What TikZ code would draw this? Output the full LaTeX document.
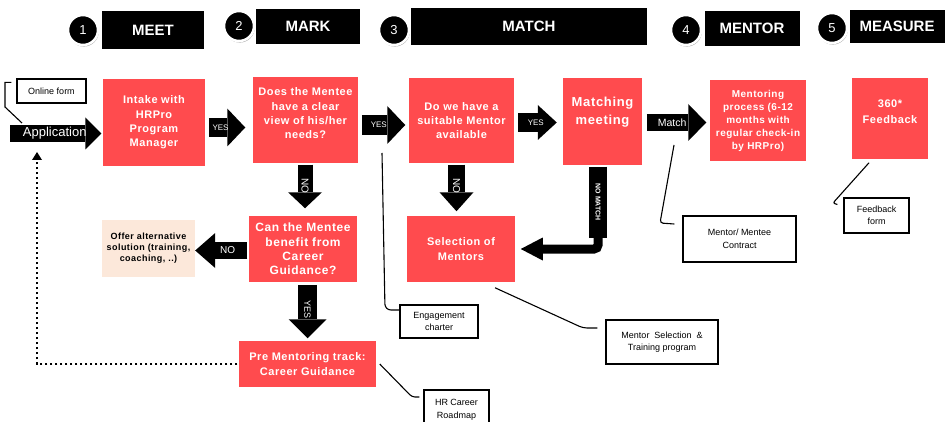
\documentclass[tikz,border=0pt]{standalone}
\usepackage{fontspec}
\setmainfont{Liberation Sans}
\newfontfamily\lsfont[LetterSpace=5]{Liberation Sans}
\usetikzlibrary{arrows.meta,shadows,calc}
\definecolor{boxred}{HTML}{FF4B4E}
\definecolor{peach}{HTML}{FCE8DA}
\begin{document}
\begin{tikzpicture}[x=1pt,y=-1pt,
  redbox/.style={fill=boxred, draw=white, line width=1.5pt,
    drop shadow={shadow xshift=1.2pt, shadow yshift=-1.4pt, fill=black, opacity=0.22},
    text=white, align=center, inner sep=0pt,
    font=\lsfont\bfseries\fontsize{11}{14.3}\selectfont},
  boxtxt/.style={text=white, align=center, inner sep=0pt,
    font=\lsfont\bfseries\fontsize{11}{14.3}\selectfont},
  hdrbox/.style={fill=black, text=white, inner sep=0pt,
    font=\bfseries\fontsize{15}{17}\selectfont},
  numcirc/.style={circle, fill=black, draw=white, line width=2.5pt, minimum size=30pt,
    inner sep=0pt, text=white, font=\fontsize{13}{15}\selectfont,
    drop shadow={shadow xshift=0.8pt, shadow yshift=-1.6pt, fill=black, opacity=0.3}},
  callout/.style={draw=black, line width=1.3pt, fill=white, align=center, inner sep=0pt,
    font=\fontsize{9}{12.5}\selectfont},
  clline/.style={draw=black, line width=1.1pt},
  lbl/.style={text=white, inner sep=0pt, font=\fontsize{8}{9}\selectfont},
  barrow/.style n args={3}{draw=black, line width=#1,
    -{Triangle[length=#3, width=#2, line width=0pt]}},
  dotarrow/.style={draw=black, line width=2.6pt, dash pattern=on 2.6pt off 2.4pt,
    -{Triangle[length=8pt, width=10pt, line width=0pt]}}
]
\useasboundingbox (0,0) rectangle (949,422);

% header
\node[hdrbox, minimum width=102pt, minimum height=38pt] (meet) at (153,30) {MEET};
\node[hdrbox, minimum width=104pt, minimum height=35pt] (mark) at (308,26.5) {MARK};
\node[hdrbox, minimum width=236pt, minimum height=37pt] (match) at (529,26.5) {MATCH};
\node[hdrbox, minimum width=95pt, minimum height=35pt] (mentor) at (752,28.5) {MENTOR};
\node[hdrbox, minimum width=95pt, minimum height=33pt] (measure) at (897,26.5) {MEASURE};
\node[numcirc] (c1) at (83,30) {1};
\node[numcirc] (c2) at (239,26) {2};
\node[numcirc] (c3) at (394,30) {3};
\node[numcirc] (c4) at (686,30) {4};
\node[numcirc] (c5) at (832,28) {5};

% red boxes
\node[redbox, minimum width=104pt, minimum height=89pt] (intake) at (154,122.5)
  {Intake with\\HRPro\\Program\\Manager};
\node[redbox, minimum width=107pt, minimum height=88pt,
  label={[boxtxt, yshift=6.5pt]center:{Does the Mentee\\have a clear\\view of his/her\\needs?}}]
  (mentee) at (305.5,120) {};
\node[redbox, minimum width=107pt, minimum height=87pt] (suitable) at (461.5,120.5)
  {Do we have a\\suitable Mentor\\available};
\node[redbox, minimum width=81pt, minimum height=89pt,
  label={[boxtxt, yshift=9.5pt, font=\lsfont\bfseries\fontsize{13}{18}\selectfont]center:{Matching\\meeting}}]
  (matching) at (602.5,121.5) {};
\node[redbox, minimum width=98pt, minimum height=83pt,
  font=\lsfont\bfseries\fontsize{10}{13}\selectfont] (process) at (758,120.5)
  {Mentoring\\process (6-12\\months with\\regular check-in\\by HRPro)};
\node[redbox, minimum width=78pt, minimum height=83pt,
  label={[boxtxt, yshift=6.5pt, font=\lsfont\bfseries\fontsize{11}{16}\selectfont]center:{360*\\Feedback}}]
  (feedback) at (890,118.5) {};
\node[redbox, minimum width=110pt, minimum height=68pt,
  font=\lsfont\bfseries\fontsize{12}{14.3}\selectfont] (benefit) at (303,249)
  {Can the Mentee\\benefit from\\Career\\Guidance?};
\node[redbox, minimum width=110pt, minimum height=68pt] (selection) at (461,249)
  {Selection of\\Mentors};
\node[redbox, minimum width=139pt, minimum height=48pt] (pretrack) at (307.5,364)
  {Pre Mentoring track:\\Career Guidance};
\node[fill=peach, minimum width=93pt, minimum height=57pt, align=center, inner sep=0pt,
  font=\lsfont\bfseries\fontsize{9}{11}\selectfont] (offer) at (148.5,248.5)
  {Offer alternative\\solution (training,\\coaching, ..)};

% callout boxes
\node[callout, minimum width=69pt, minimum height=24pt] (online) at (51.5,91) {Online form};
\node[callout, minimum width=113pt, minimum height=46pt] (contract) at (739.5,239) {Mentor/ Mentee\\Contract};
\node[callout, minimum width=65pt, minimum height=35pt] (fbform) at (876.5,215.5) {Feedback\\form};
\node[callout, minimum width=78pt, minimum height=33pt] (engage) at (439,321.5) {Engagement\\charter};
\node[callout, minimum width=112pt, minimum height=44pt] (msel) at (662,342) {Mentor~~Selection~~\&\\Training program};
\node[callout, minimum width=65pt, minimum height=40pt] (roadmap) at (456.5,410) {HR Career\\Roadmap};

% block arrows
\coordinate (appstart) at (10,133.5);
\draw[barrow={17pt}{32pt}{16pt}] (appstart) -- (appstart -| intake.west)
  node[pos=0.49, lbl, font=\fontsize{13}{15}\selectfont] {Application};
\draw[barrow={19pt}{38pt}{18pt}, shorten <=2pt, shorten >=6pt]
  ([yshift=-5pt]intake.east) -- ([yshift=-5pt]intake.east -| mentee.west)
  node[pos=0.31, lbl] {YES};
\draw[barrow={20pt}{38pt}{18pt}, shorten <=2pt, shorten >=2pt]
  ([yshift=-5pt]mentee.east) -- ([yshift=-5pt]mentee.east -| suitable.west)
  node[pos=0.4, lbl] {YES};
\draw[barrow={19pt}{35pt}{19pt}, shorten <=2.5pt, shorten >=4.5pt]
  ([yshift=-2pt]suitable.east) -- ([yshift=-2pt]suitable.east -| matching.west)
  node[pos=0.44, lbl] {YES};
\draw[barrow={17pt}{37pt}{18pt}, shorten <=3pt, shorten >=2pt]
  ([yshift=-1pt]matching.east) -- ([yshift=-1pt]matching.east -| process.west)
  node[pos=0.44, lbl, font=\fontsize{10.5}{12}\selectfont] {Match};
\draw[barrow={15pt}{34pt}{16pt}, shorten >=6pt]
  ([xshift=-0.5pt]mentee.south) -- ([xshift=-0.5pt]mentee.south |- benefit.north)
  node[pos=0.42, lbl, rotate=-90, font=\fontsize{10}{12}\selectfont] {NO};
\draw[barrow={17pt}{35pt}{20pt}]
  ([yshift=-1.5pt]benefit.west) -- ([yshift=-1.5pt]benefit.west -| offer.east)
  node[pos=0.375, lbl, font=\fontsize{10}{12}\selectfont] {NO};
\draw[barrow={19pt}{38pt}{19pt}, shorten <=1pt, shorten >=1pt]
  ([xshift=4.5pt]benefit.south) -- ([xshift=4.5pt]benefit.south |- pretrack.north)
  node[pos=0.47, lbl, rotate=-90, font=\fontsize{9}{11}\selectfont] {YES};
\draw[barrow={17pt}{34pt}{19pt}, shorten >=3pt]
  ([xshift=-5pt]suitable.south) -- ([xshift=-5pt]suitable.south |- selection.north)
  node[pos=0.42, lbl, rotate=-90, font=\fontsize{10}{12}\selectfont] {NO};
\draw[line width=18pt] ([xshift=-4.5pt]matching.south) -- ++(0,71)
  node[midway, lbl, rotate=-90, font=\bfseries\fontsize{7}{8}\selectfont] {NO MATCH};
\draw[barrow={9pt}{23pt}{22pt}, rounded corners=4pt, shorten >=4pt]
  ([xshift=-4.5pt,yshift=-66pt]matching.south) |- (selection.east);

% dotted return arrow
\coordinate (dotend) at (37,152);
\draw[dotarrow] (pretrack.west) -| (dotend);

% callout lines
\coordinate (onlinept) at (22,123);
\draw[clline] (onlinept) -- ++(-17,-16) |- ([xshift=-5pt,yshift=-4pt]online.north west);
\coordinate (engpt) at (382,153);
\draw[clline, rounded corners=6pt] (engpt) -- (385,310) -- ([yshift=11.5pt]engage.west);
\draw[clline, rounded corners=3pt] ([xshift=2pt]pretrack.east) -- (412,397)
  -- ([xshift=-4pt,yshift=13pt]roadmap.west);
\draw[clline, rounded corners=4pt] ([xshift=34pt,yshift=-4pt]selection.south) -- (583,328)
  -- ([xshift=-8pt,yshift=14pt]msel.west);
\coordinate (ctpt) at (674,145);
\draw[clline, rounded corners=3pt] (ctpt) -- (660,223) -- ([xshift=-8pt,yshift=15pt]contract.west);
\draw[clline, rounded corners=2pt] ([xshift=-21pt,yshift=-2pt]feedback.south) -- (833,203)
  -- ([xshift=-6pt,yshift=11pt]fbform.west);
\end{tikzpicture}
\end{document}
